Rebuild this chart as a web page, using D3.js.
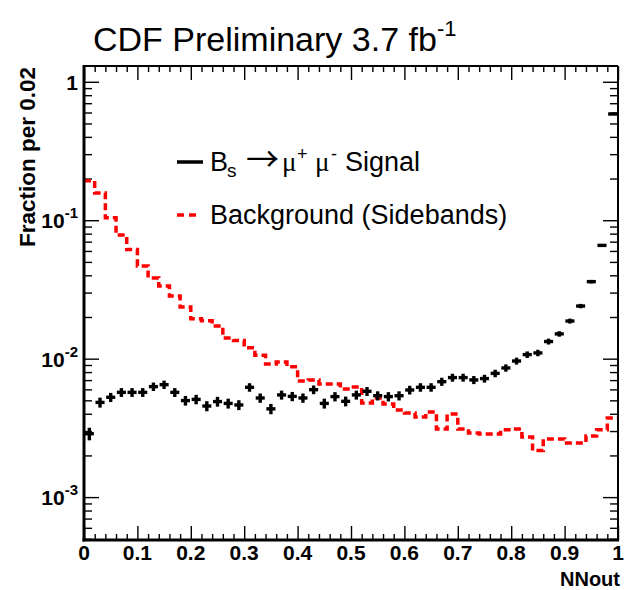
<!DOCTYPE html>
<html><head><meta charset="utf-8">
<script src="https://cdn.jsdelivr.net/npm/d3@7"></script>
<style>body{margin:0;background:#fff}svg{display:block}</style>
</head><body>
<script>
// ---- data (fraction per 0.02 bin of NNout, 50 bins from 0 to 1) ----
const binWidth = 0.02;
const signal = [0.00287,0.00483,0.00526,0.00571,0.00571,0.00571,0.00628,0.00649,0.00571,0.00498,
                0.00508,0.00455,0.00490,0.00475,0.00463,0.00621,0.00520,0.00434,0.00547,0.00534,
                0.00520,0.00597,0.00475,0.00532,0.00492,0.00547,0.00581,0.00540,0.00532,0.00540,
                0.00594,0.00621,0.00621,0.00682,0.00730,0.00730,0.00702,0.00718,0.00783,0.00857,
                0.00962,0.0107,0.0110,0.0133,0.0151,0.0187,0.0240,0.0360,0.0658,0.585];
const signalErr = [0.00030,0.00040,0.00040,0.00042,0.00042,0.00042,0.00044,0.00045,0.00042,0.00040,
                   0.00040,0.00038,0.00040,0.00039,0.00038,0.00044,0.00040,0.00037,0.00041,0.00041,
                   0.00040,0.00043,0.00039,0.00041,0.00040,0.00041,0.00043,0.00041,0.00041,0.00041,
                   0.00043,0.00044,0.00044,0.00046,0.00048,0.00048,0.00047,0.00047,0.00049,0.00052,
                   0.00055,0.00058,0.00059,0.00065,0.00069,0.00077,0.00087,0.00107,0.00145,0.0043];
const background = [0.193,0.157,0.104,0.0782,0.0614,0.0467,0.0383,0.0335,0.0284,0.0236,
                    0.0194,0.0188,0.0172,0.0141,0.0135,0.0120,0.0106,0.00916,0.00946,0.00875,
                    0.00690,0.00702,0.00656,0.00656,0.00604,0.00625,0.00479,0.00520,0.00471,0.00426,
                    0.00405,0.00379,0.00412,0.00310,0.00398,0.00310,0.00290,0.00286,0.00286,0.00306,
                    0.00310,0.00272,0.00217,0.00263,0.00263,0.00246,0.00246,0.00276,0.00306,0.00373];
const xTickValues = [0,0.1,0.2,0.3,0.4,0.5,0.6,0.7,0.8,0.9,1];
const xTickLabels = ["0","0.1","0.2","0.3","0.4","0.5","0.6","0.7","0.8","0.9","1"];
const yTickValues = [1,0.1,0.01,0.001];
const yTickBases = ["1","10","10","10"];
const yTickExps = ["","-1","-2","-3"];
const yDomain = [4.9e-4, 1.3];
const titleText = "CDF Preliminary 3.7 fb";
const titleExp = "-1";
const xTitle = "NNout";
const yTitle = "Fraction per 0.02";
const bgLabel = "Background (Sidebands)";

// ---- drawing ----
const W = 625, H = 590;
const L = 84, R = 618, T = 66, B = 540;
const FONT = "'Liberation Sans', Arial, Helvetica, sans-serif";
const svg = d3.select("body").append("svg").attr("width", W).attr("height", H)
  .style("font-family", FONT);
svg.append("rect").attr("width", W).attr("height", H).attr("fill", "#fff");

const x = d3.scaleLinear().domain([0, 1]).range([L, R]);
const y = d3.scaleLog().domain(yDomain).range([B, T]);

// minor tick values
const xMinor = d3.range(0, 51).map(i => i * binWidth).filter(v => Math.abs(v * 10 - Math.round(v * 10)) > 1e-6);
const yMinor = y.ticks().filter(v => Math.abs(Math.log10(v) - Math.round(Math.log10(v))) > 1e-6);

function axis(gen, tr, vals, size) {
  const g = svg.append("g").attr("transform", tr)
    .call(gen.tickValues(vals).tickSize(size).tickFormat(""));
  g.select(".domain").remove();
  g.selectAll("line").attr("stroke", "#000").attr("stroke-width", 1.4);
  return g;
}
// bottom (ticks upward)
axis(d3.axisTop(x), `translate(0,${B})`, xTickValues, 14);
axis(d3.axisTop(x), `translate(0,${B})`, xMinor, 6);
// top (ticks downward)
axis(d3.axisBottom(x), `translate(0,${T})`, xTickValues, 14);
axis(d3.axisBottom(x), `translate(0,${T})`, xMinor, 6);
// left (ticks right)
axis(d3.axisRight(y), `translate(${L},0)`, yTickValues, 15);
axis(d3.axisRight(y), `translate(${L},0)`, yMinor, 8);
// right (ticks left)
axis(d3.axisLeft(y), `translate(${R},0)`, yTickValues, 15);
axis(d3.axisLeft(y), `translate(${R},0)`, yMinor, 8);

// background histogram (red dashed steps)
const stepPts = background.map((v, i) => [i * binWidth, v]);
stepPts.push([1, background[background.length - 1]]);
const stepLine = d3.line().x(d => x(d[0])).y(d => y(d[1])).curve(d3.curveStepAfter);
svg.append("path").attr("d", stepLine(stepPts))
  .attr("fill", "none").attr("stroke", "#ff0000").attr("stroke-width", 3.5)
  .attr("stroke-dasharray", "7 4");

// signal points with error bars
const sg = svg.append("g").attr("stroke", "#000").attr("stroke-width", 3.4);
signal.forEach((v, i) => {
  const lo = i * binWidth, hi = (i + 1) * binWidth, c = (lo + hi) / 2;
  sg.append("line").attr("x1", x(lo) + 0.8).attr("x2", x(hi) - 0.8).attr("y1", y(v)).attr("y2", y(v));
  sg.append("line").attr("x1", x(c)).attr("x2", x(c))
    .attr("y1", y(v - signalErr[i])).attr("y2", y(v + signalErr[i]));
});

// frame
svg.append("line").attr("x1", L).attr("x2", R).attr("y1", T).attr("y2", T).attr("stroke", "#000").attr("stroke-width", 2);
svg.append("line").attr("x1", R).attr("x2", R).attr("y1", T).attr("y2", B).attr("stroke", "#000").attr("stroke-width", 2);
svg.append("line").attr("x1", L).attr("x2", L).attr("y1", T - 1).attr("y2", B + 1.5).attr("stroke", "#000").attr("stroke-width", 3);
svg.append("line").attr("x1", L - 1.5).attr("x2", R + 1).attr("y1", B).attr("y2", B).attr("stroke", "#000").attr("stroke-width", 3);

// x tick labels
svg.append("g").selectAll("text").data(xTickValues).join("text")
  .attr("x", d => x(d)).attr("y", 560).attr("text-anchor", "middle")
  .attr("font-weight", "bold").attr("font-size", 21)
  .text((d, i) => xTickLabels[i]);
// y tick labels
const yl = svg.append("g").selectAll("text").data(yTickValues).join("text")
  .attr("x", 78).attr("y", d => y(d) + 8).attr("text-anchor", "end")
  .attr("font-weight", "bold").attr("font-size", 21);
yl.append("tspan").text((d, i) => yTickBases[i]);
yl.append("tspan").attr("dy", -10).attr("font-size", 15).text((d, i) => yTickExps[i]);

// axis titles
svg.append("text").attr("x", 620).attr("y", 586).attr("text-anchor", "end")
  .attr("font-weight", "bold").attr("font-size", 20).text(xTitle);
svg.append("text").attr("transform", `translate(35,${T + 1}) rotate(-90)`).attr("text-anchor", "end")
  .attr("font-weight", "bold").attr("font-size", 22.5).text(yTitle);

// title
const tt = svg.append("text").attr("x", 93).attr("y", 51).attr("font-size", 34).attr("fill", "#000");
tt.append("tspan").text(titleText);
tt.append("tspan").attr("dy", -15).attr("font-size", 22).text(titleExp);

// legend
svg.append("line").attr("x1", 177).attr("x2", 203).attr("y1", 162).attr("y2", 162)
  .attr("stroke", "#000").attr("stroke-width", 3.5);
svg.append("line").attr("x1", 177).attr("x2", 198).attr("y1", 215).attr("y2", 215)
  .attr("stroke", "#ff0000").attr("stroke-width", 3.5).attr("stroke-dasharray", "7 5");
const lt = svg.append("text").attr("y", 171).attr("font-size", 27);
lt.append("tspan").attr("x", 210).text("B");
lt.append("tspan").attr("x", 227).attr("dy", 6).attr("font-size", 19).text("s");
lt.append("tspan").attr("x", 246).attr("dy", -6).attr("font-size", 33)
  .style("font-family", "'Noto Sans CJK SC', 'Liberation Serif', serif").text("\u2192");
lt.append("tspan").attr("x", 282).style("font-family", "'Liberation Serif', serif").text("\u03bc");
lt.append("tspan").attr("x", 297).attr("dy", -11).attr("font-size", 18).text("+");
lt.append("tspan").attr("x", 315).attr("dy", 11).style("font-family", "'Liberation Serif', serif").text("\u03bc");
lt.append("tspan").attr("x", 331).attr("dy", -11).attr("font-size", 18).text("-");
lt.append("tspan").attr("x", 345).attr("dy", 11).text("Signal");
svg.append("text").attr("x", 210).attr("y", 224).attr("font-size", 27).text(bgLabel);
</script>
</body></html>
